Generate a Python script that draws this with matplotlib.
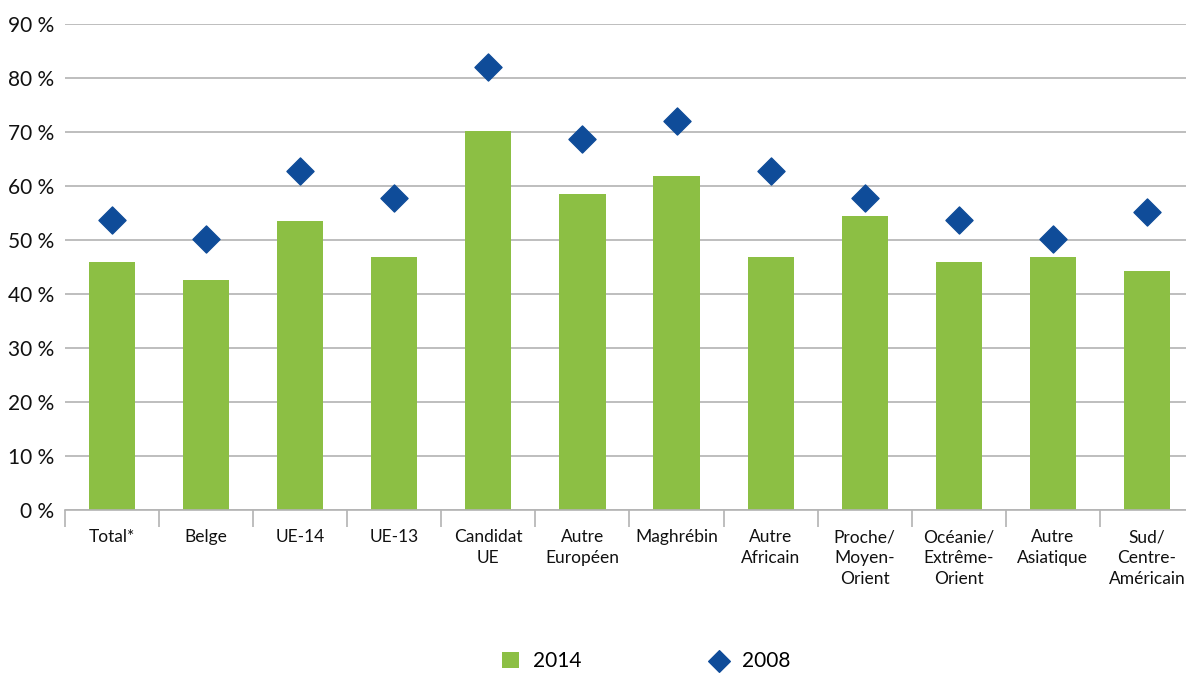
import numpy as np
import matplotlib
matplotlib.use("Agg")
from matplotlib import pyplot as plt
from matplotlib.ticker import FuncFormatter

plt.rcParams['font.family'] = ['Lato', 'DejaVu Sans']

categories = ["Total*", "Belge", "UE-14", "UE-13", "Candidat\nUE", "Autre\nEuropéen",
              "Maghrébin", "Autre\nAfricain", "Proche/\nMoyen-\nOrient",
              "Océanie/\nExtrême-\nOrient", "Autre\nAsiatique", "Sud/\nCentre-\nAméricain"]
values_2014 = [46.0, 42.6, 53.5, 46.9, 70.2, 58.5, 61.9, 46.9, 54.4, 46.0, 46.9, 44.3]
values_2008 = [53.7, 50.2, 62.8, 57.8, 82.0, 68.7, 72.0, 62.8, 57.8, 53.7, 50.2, 55.2]

green = "#8cbf44"
blue = "#0f4c99"

fig = plt.figure(figsize=(11.86, 6.75), dpi=100)
ax = fig.add_axes([65 / 1186, 1 - 510 / 675, 1129 / 1186, 486 / 675])

x = np.arange(len(categories))
bars = ax.bar(x, values_2014, width=0.49, color=green, label="2014", zorder=2)
pts = ax.scatter(x, values_2008, marker="D", s=190, color=blue, label="2008", zorder=3)

ax.set_xlim(-0.5, len(categories) - 0.5)
ax.set_ylim(0, 90)
ax.set_yticks(range(0, 91, 10))
ax.yaxis.set_major_formatter(FuncFormatter(lambda v, p: f"{int(v)} %"))
ax.grid(axis="y", color="#b3b3b3", linewidth=1.2, zorder=0)
ax.tick_params(axis="y", length=0, labelsize=15, pad=8, labelcolor="#111111")

ax.set_xticks(x)
ax.set_xticklabels(categories, fontsize=12.5, linespacing=1.35, color="#111111")
ax.set_xticks(np.arange(len(categories) + 1) - 0.5, minor=True)
ax.tick_params(axis="x", which="major", length=0, pad=14)
ax.tick_params(axis="x", which="minor", length=12, color="#b3b3b3", width=1.2)

for side in ["top", "right", "left"]:
    ax.spines[side].set_visible(False)
ax.spines["bottom"].set_color("#b3b3b3")
ax.spines["bottom"].set_linewidth(1.2)

fig.legend([bars, pts], ["2014", "2008"], loc="lower center", bbox_to_anchor=(0.545, -0.022),
           ncol=2, frameon=False, fontsize=15, columnspacing=6.2, handlelength=0.8,
           handleheight=0.8, handletextpad=0.7, markerscale=0.8)

plt.savefig("out.png", dpi=100)
